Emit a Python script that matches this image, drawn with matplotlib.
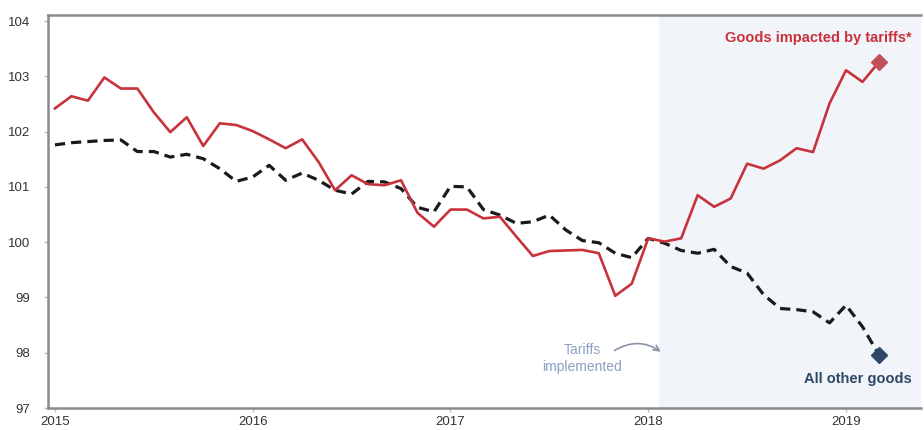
import numpy as np
import pandas as pd
import matplotlib
matplotlib.use("Agg")
import matplotlib.pyplot as plt

plt.rcParams['font.family'] = ['Liberation Sans', 'DejaVu Sans']

# Monthly price index, Jan 2015 - Mar 2019 (Jan 2018 = 100)
months = pd.period_range("2015-01", "2019-03", freq="M")
tariff_goods = [
    102.42, 102.64, 102.56, 102.98, 102.78, 102.78, 102.35, 101.99, 102.26, 101.74,
    102.15, 102.12, 102.01, 101.86, 101.70, 101.86, 101.45, 100.94, 101.21, 101.05,
    101.03, 101.12, 100.53, 100.28, 100.59, 100.59, 100.43, 100.46, 100.10, 99.75,
    99.84, 99.85, 99.86, 99.80, 99.03, 99.25, 100.07, 100.01, 100.07, 100.85,
    100.64, 100.79, 101.42, 101.33, 101.48, 101.70, 101.63, 102.51, 103.11, 102.90,
    103.26,
]
other_goods = [
    101.76, 101.80, 101.82, 101.84, 101.85, 101.64, 101.64, 101.54, 101.59, 101.51,
    101.33, 101.10, 101.18, 101.39, 101.12, 101.25, 101.12, 100.94, 100.87, 101.10,
    101.09, 100.97, 100.63, 100.55, 101.01, 101.00, 100.59, 100.49, 100.34, 100.37,
    100.49, 100.22, 100.03, 99.99, 99.80, 99.72, 100.07, 99.98, 99.85, 99.80,
    99.87, 99.56, 99.44, 99.05, 98.80, 98.78, 98.74, 98.54, 98.86, 98.47,
    97.96,
]
y_ticks = [97, 98, 99, 100, 101, 102, 103, 104]
tariff_start = 36.65  # months after Jan 2015

RED = "#c8323c"
RED_MARK = "#c0505a"
NAVY = "#2c4866"
GREY = "#8a8a8a"

x = np.arange(len(months))

fig = plt.figure(figsize=(9.24, 4.30), dpi=100)
ax = fig.add_axes([48 / 924, 22 / 430, 873 / 924, 393 / 430])

ax.axvspan(tariff_start, 60, color="#f1f5f9", zorder=0, lw=0)

ax.plot(x, other_goods, color="#1a1a1a", lw=2.3, dashes=(3.2, 1.9), zorder=3)
ax.plot(x, tariff_goods, color=RED, lw=1.9, zorder=4)
ax.plot(x[-1], tariff_goods[-1], marker="D", ms=8, color=RED_MARK, zorder=5)
ax.plot(x[-1], other_goods[-1], marker="D", ms=8, color=NAVY, zorder=5)

ax.text(46.3, 103.69, "Goods impacted by tariffs*", color=RED, fontsize=10.5,
        fontweight="bold", ha="center", va="center")
ax.text(48.7, 97.52, "All other goods", color=NAVY, fontsize=10.5,
        fontweight="bold", ha="center", va="center")
ax.text(32.0, 97.89, "Tariffs\nimplemented", color="#8b9fc6", fontsize=10,
        ha="center", va="center", linespacing=1.3)
ax.annotate("", xy=(36.9, 97.99), xytext=(33.8, 98.01),
            arrowprops=dict(arrowstyle="->", color="#8a94a8", lw=1.2,
                            connectionstyle="arc3,rad=-0.35"))

ax.set_xlim(-0.42, 52.55)
ax.set_ylim(97, 104.11)
ax.set_yticks(y_ticks)
year_pos = [i for i, m in enumerate(months) if m.month == 1]
ax.set_xticks(year_pos)
ax.set_xticklabels([str(months[i].year) for i in year_pos])

for side in ("left", "bottom", "top"):
    ax.spines[side].set_color(GREY)
    ax.spines[side].set_linewidth(1.8)
ax.spines["right"].set_visible(False)
ax.tick_params(colors="#bbbbbb", labelcolor="#333333", labelsize=9.5,
               length=3, width=1)
ax.tick_params(axis="y", pad=10)
ax.tick_params(axis="x", pad=3)

fig.savefig("out.png", dpi=100)
